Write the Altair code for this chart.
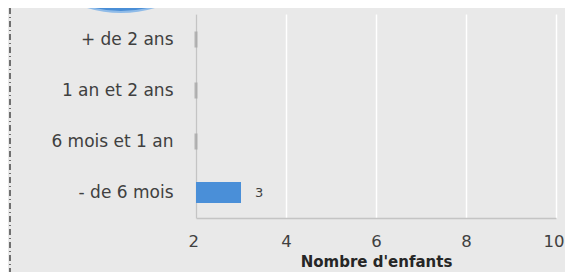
import altair as alt
import pandas as pd

categories = ["+ de 2 ans", "1 an et 2 ans ", "6 mois et 1 an", "- de 6 mois"]
values = [0, 0, 0, 3]
labels = ["", "", "", "3"]
x_ticks = [2, 4, 6, 8, 10]

df = pd.DataFrame({"cat": categories, "v": values, "lab": labels})

FONT = "DejaVu Sans"
xs = alt.Scale(domain=[2, 10], nice=False, zero=False)
ys = alt.Scale(domain=categories, paddingInner=0.6, paddingOuter=0.3)

base = alt.Chart(df)

bars = base.transform_filter("datum.v > 2").mark_bar(color="#4a8fd8", clip=True, size=21).encode(
    x=alt.X("v:Q", scale=xs, title="Nombre d'enfants",
            axis=alt.Axis(values=x_ticks, grid=True, gridColor="#ffffff", gridWidth=1.5,
                          domainColor="#c4c4c4", domainWidth=1.5, ticks=False,
                          labelFlush=True, labelFlushOffset=8,
                          labelFont=FONT, labelFontSize=16.5, labelColor="#404040", labelPadding=15,
                          titleFont=FONT, titleFontSize=15, titleFontWeight="bold",
                          titleColor="#262626", titlePadding=5)),
    x2=alt.datum(2),
    y=alt.Y("cat:N", scale=ys, sort=categories, title=None,
            axis=alt.Axis(ticks=False, domainColor="#c4c4c4", domainWidth=1.5,
                          labelFont=FONT, labelFontSize=17, labelColor="#404040",
                          labelPadding=23)),
)

stubs = base.transform_filter("datum.v <= 2").transform_calculate(x0="2").mark_tick(
    color="#a8a8a8", thickness=3, size=16, opacity=0.8).encode(
    x=alt.X("x0:Q", scale=xs),
    y=alt.Y("cat:N", scale=ys, sort=categories),
)

text = base.mark_text(align="left", dx=14, font=FONT, fontSize=13, color="#404040").encode(
    x=alt.X("v:Q", scale=xs),
    y=alt.Y("cat:N", scale=ys, sort=categories),
    text="lab:N",
)

circle = base.transform_filter("datum.v > 2").mark_point(
    shape="circle", filled=True, fill="#4a8ed6", stroke="#8fbbe8", strokeWidth=2,
    size=52900, opacity=1).encode(
    x=alt.value(-75), y=alt.value(-117))

dashline = base.transform_filter("datum.v > 2").mark_rule(
    color="#202020", strokeWidth=1.2, strokeDash=[6, 3, 1, 3]).encode(
    x=alt.value(-186), y=alt.value(-6), y2=alt.value(270))

chart = alt.layer(bars, stubs, text, circle, dashline).properties(
    width=360, height=204,
    autosize=alt.AutoSizeParams(type="none"),
    padding={"left": 188, "top": 6, "right": 9, "bottom": 54},
    background="#e9e9e9",
).configure_view(stroke=None, fill="#e9e9e9")

chart.save("out.html", embed_options={"renderer": "svg", "actions": False})
